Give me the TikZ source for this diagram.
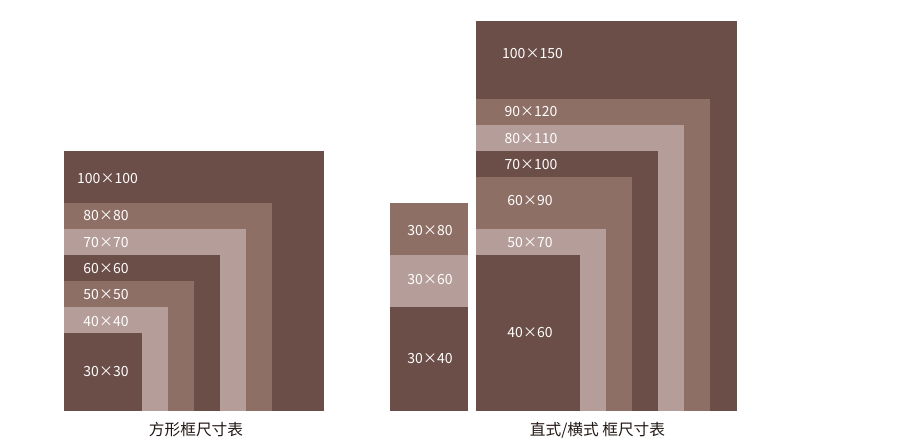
\documentclass[tikz,border=0pt]{standalone}
\usepackage{fontspec}
\setmainfont{Noto Sans CJK SC}
\definecolor{fdark}{HTML}{6B4E48}
\definecolor{fmid}{HTML}{8E6F66}
\definecolor{flight}{HTML}{B59E9A}
\definecolor{capcol}{HTML}{231815}
\tikzset{
  lbl/.style={text=white, font=\fontsize{14}{15}\selectfont, inner sep=0pt, anchor=center, yshift=-1.5pt},
  captext/.style={text=capcol, font=\fontsize{15.7}{16}\selectfont, inner sep=0pt, anchor=center}
}
\begin{document}
\begin{tikzpicture}[x=1pt,y=-1pt]
\useasboundingbox (0,0) rectangle (921,447);
% square frames (bottom-left anchored at 64,411; 2.6 px per unit)
\fill[fdark]  (64,151) rectangle (324,411);
\fill[fmid]   (64,203) rectangle (272,411);
\fill[flight] (64,229) rectangle (246,411);
\fill[fdark]  (64,255) rectangle (220,411);
\fill[fmid]   (64,281) rectangle (194,411);
\fill[flight] (64,307) rectangle (168,411);
\fill[fdark]  (64,333) rectangle (142,411);
\node[lbl] (s100) at (107.5,177) {100×100};
\node[lbl] (s80)  at (106,214) {80×80};
\node[lbl] (s70)  at (106,241) {70×70};
\node[lbl] (s60)  at (106,267) {60×60};
\node[lbl] (s50)  at (106,293) {50×50};
\node[lbl] (s40)  at (106,320) {40×40};
\node[lbl] (s30)  at (106,370) {30×30};
% narrow column
\fill[fmid]   (390,203) rectangle (468,255);
\fill[flight] (390,255) rectangle (468,307);
\fill[fdark]  (390,307) rectangle (468,411);
\node[lbl] (n80) at (430,229) {30×80};
\node[lbl] (n60) at (430,278) {30×60};
\node[lbl] (n40) at (430,357) {30×40};
% vertical frames
\fill[fdark]  (476,21)  rectangle (737,411);
\fill[fmid]   (476,99)  rectangle (710,411);
\fill[flight] (476,125) rectangle (684,411);
\fill[fdark]  (476,151) rectangle (658,411);
\fill[fmid]   (476,177) rectangle (632,411);
\fill[flight] (476,229) rectangle (606,411);
\fill[fdark]  (476,255) rectangle (580,411);
\node[lbl] (v150) at (532.5,52)  {100×150};
\node[lbl] (v120) at (531,110) {90×120};
\node[lbl] (v110) at (531,137) {80×110};
\node[lbl] (v100) at (531,163) {70×100};
\node[lbl] (v90)  at (530,199) {60×90};
\node[lbl] (v70)  at (530,241) {50×70};
\node[lbl] (v60)  at (530,331) {40×60};
% captions
\node[captext] (capL) at (196,430) {方形框尺寸表};
\node[captext] (capR) at (597.5,430) {直式/横式 框尺寸表};
\end{tikzpicture}
\end{document}
